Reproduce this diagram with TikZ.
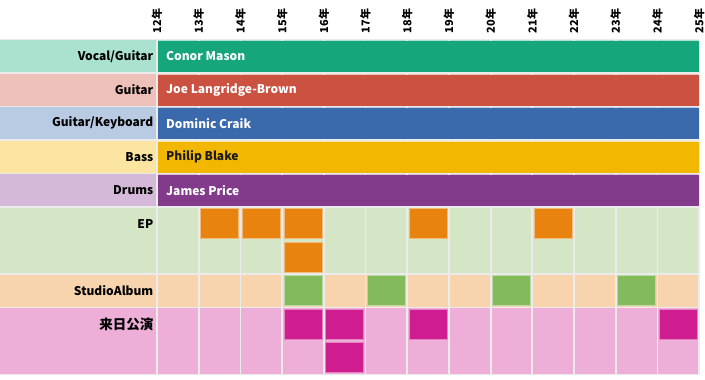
\documentclass[tikz,border=0pt]{standalone}
\usepackage{fontspec}
\setmainfont{Noto Sans CJK JP}
\usetikzlibrary{positioning}

\definecolor{gridgray}{HTML}{EBEBEB}
\definecolor{vocalbg}{HTML}{AAE1CF}
\definecolor{vocalbar}{HTML}{16A67B}
\definecolor{guitarbg}{HTML}{EEC0BA}
\definecolor{guitarbar}{HTML}{CB5140}
\definecolor{keysbg}{HTML}{B9CBE3}
\definecolor{keysbar}{HTML}{3A69AC}
\definecolor{bassbg}{HTML}{FBE5A1}
\definecolor{bassbar}{HTML}{F2B700}
\definecolor{drumsbg}{HTML}{D4B9D8}
\definecolor{drumsbar}{HTML}{813B8A}
\definecolor{epbg}{HTML}{D5E6C6}
\definecolor{epbox}{HTML}{E8830F}
\definecolor{albumbg}{HTML}{F8D4AE}
\definecolor{albumbox}{HTML}{82BA5C}
\definecolor{livebg}{HTML}{EDAFD7}
\definecolor{livebox}{HTML}{CF1C8F}

\begin{document}
\begin{tikzpicture}[x=1pt, y=-1pt,
  grid/.style={draw=gridgray, line width=1.8pt},
  rowlbl/.style={anchor=east, inner sep=0pt, font=\bfseries\fontsize{12}{14}\selectfont},
  namelbl/.style={anchor=west, inner sep=0pt, text=white, font=\bfseries\fontsize{12}{14}\selectfont},
  yearlbl/.style={anchor=west, rotate=90, inner sep=0pt, font=\bfseries\fontsize{11}{12}\selectfont},
  bar/.style={fill=#1},
  block/.style={fill=#1, draw=#1!55!white, line width=0.8pt}
]
  \useasboundingbox (0,0) rectangle (705,380);

  % row backgrounds
  \fill[vocalbg]  (0,39.5)  rectangle (699.1,73);
  \fill[guitarbg] (0,73)    rectangle (699.1,106.5);
  \fill[keysbg]   (0,106.5) rectangle (699.1,140);
  \fill[bassbg]   (0,140)   rectangle (699.1,173.5);
  \fill[drumsbg]  (0,173.5) rectangle (699.1,207);
  \fill[epbg]     (0,207)   rectangle (699.1,274);
  \fill[albumbg]  (0,274)   rectangle (699.1,307.5);
  \fill[livebg]   (0,307.5) rectangle (699.1,374.5);

  % grid
  \foreach \k in {0,...,13}
    \draw[grid] (157+41.7*\k,39.5) -- (157+41.7*\k,374.5);
  \foreach \y in {39.5,73,106.5,140,173.5,207,274,307.5,374.5}
    \draw[grid] (0,\y) -- (699.1,\y);

  % year axis
  \foreach \k [evaluate=\k as \yr using int(12+\k)] in {0,...,13}
    \node[yearlbl] (y\yr) at (157+41.7*\k,33.5) {\yr 年};

  % members
  \fill[bar=vocalbar]  (158.2,41)    rectangle (698.6,72);
  \fill[bar=guitarbar] (158.2,74.5)  rectangle (698.6,105.5);
  \fill[bar=keysbar]   (158.2,108)   rectangle (698.6,139);
  \fill[bar=bassbar]   (158.2,141.5) rectangle (698.6,172.5);
  \fill[bar=drumsbar]  (158.2,175)   rectangle (698.6,206);

  \node[rowlbl] (vocal)  at (153.5,56.3)  {Vocal/Guitar};
  \node[rowlbl] (guitar) at (153.5,89.8)  {Guitar};
  \node[rowlbl] (keys)   at (153.5,123.3) {Guitar/Keyboard};
  \node[rowlbl] (bass)   at (153.5,156.8) {Bass};
  \node[rowlbl] (drums)  at (153.5,190.3) {Drums};

  \node[namelbl] (conor)   at (166,56.3)  {Conor Mason};
  \node[namelbl] (joe)     at (166,89.8)  {Joe Langridge-Brown};
  \node[namelbl] (dominic) at (166,123.3) {Dominic Craik};
  \node[namelbl, text=black!90] (philip) at (166,156.8) {Philip Blake};
  \node[namelbl] (james)   at (166,190.3) {James Price};

  % releases and tours (column / sub-row)
  \foreach \c/\r in {1/0,2/0,3/0,3/1,6/0,9/0}
    \draw[block=epbox] (157+41.7*\c+1.8,207+33.5*\r+1.8) rectangle (157+41.7*\c+39.9,207+33.5*\r+31.7);
  \foreach \c in {3,5,8,11}
    \draw[block=albumbox] (157+41.7*\c+1.8,274+1.8) rectangle (157+41.7*\c+39.9,274+31.7);
  \foreach \c/\r in {3/0,4/0,4/1,6/0,12/0}
    \draw[block=livebox] (157+41.7*\c+1.8,307.5+33.5*\r+1.8) rectangle (157+41.7*\c+39.9,307.5+33.5*\r+31.7);

  \node[rowlbl] (ep)    at (153.5,223.8) {EP};
  \node[rowlbl] (album) at (153.5,290.8) {StudioAlbum};
  \node[rowlbl, font=\bfseries\fontsize{13.5}{15}\selectfont] (live) at (153.5,324.3) {来日公演};
\end{tikzpicture}
\end{document}
